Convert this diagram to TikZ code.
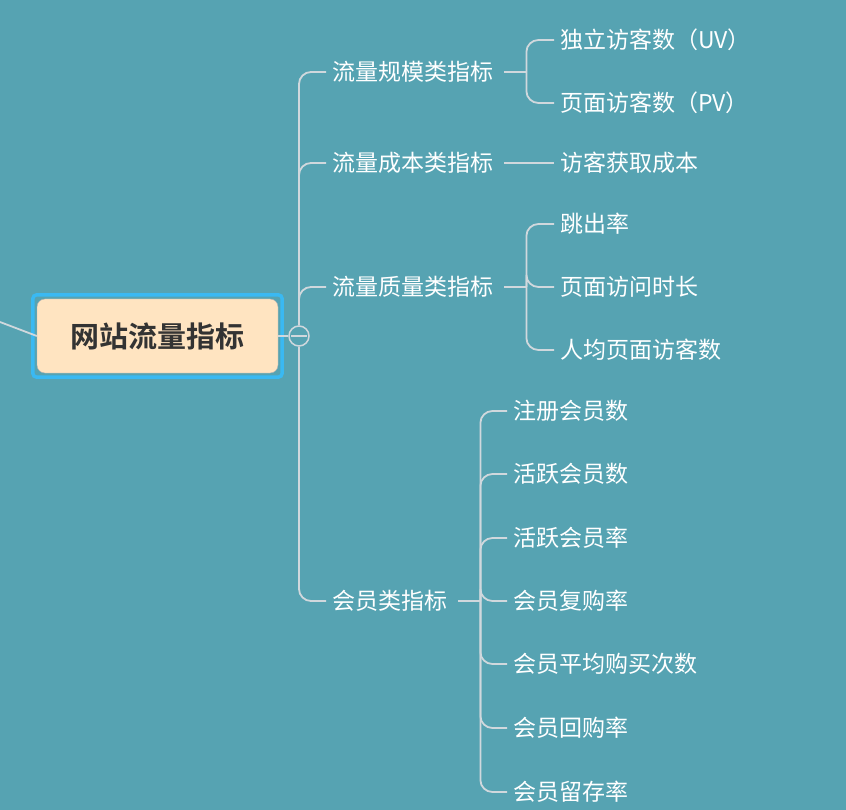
\documentclass[tikz,border=0pt]{standalone}
\usepackage{fontspec}
\setmainfont{Noto Sans CJK SC}[BoldFont={Noto Sans CJK SC Bold}]
\usetikzlibrary{positioning}
\definecolor{bgteal}{RGB}{86,163,178}
\definecolor{linegray}{RGB}{208,216,221}
\definecolor{rootfill}{RGB}{255,228,193}
\definecolor{selblue}{RGB}{58,185,242}
\definecolor{roottext}{RGB}{51,51,51}
\begin{document}
\begin{tikzpicture}[x=1pt, y=-1pt,
  every node/.style={font=\fontsize{23}{27}\selectfont, text=white, inner sep=6pt, anchor=west},
  branch/.style={draw=linegray, line width=1.8pt, rounded corners=12pt},
  stub/.style={draw=linegray, line width=1.8pt, shorten <=5pt},
  rootbox/.style={draw=gray!60, thin, fill=rootfill, rounded corners=8pt, minimum width=241pt, minimum height=74pt, anchor=center, text=roottext, font=\fontsize{29}{33}\selectfont\bfseries}]
\useasboundingbox (0,0) rectangle (846,810);
\fill[bgteal] (0,0) rectangle (846,810);
% root and collapse button
\coordinate (up) at (0,322);
\node[rootbox] (root) at (157.5,336) {网站流量指标};
\draw[selblue, line width=3.5pt, rounded corners=4pt] ([shift={(-4,-4)}]root.north west) rectangle ([shift={(4,4)}]root.south east);
\draw[branch] (up) -- (root.west);
\node[circle, draw=linegray, line width=1.5pt, fill=bgteal, minimum size=20pt, inner sep=0pt, anchor=center] (fold) at (299,336) {};
\draw[linegray, line width=1.5pt] ([xshift=3pt]fold.west) -- ([xshift=-3pt]fold.east);
\draw[branch] (root.east) -- (fold.west);
% first level
\node (scale) at (326,72) {流量规模类指标};
\node (cost) at (326,163) {流量成本类指标};
\node (quality) at (326,287) {流量质量类指标};
\node (member) at (326,601) {会员类指标};
\foreach \n in {scale,cost,quality} \draw[branch] (fold.north) |- (\n.west);
\draw[branch] (fold.south) |- (member.west);
% second level
\node (uv) at (554,40) {独立访客数（UV）};
\node (pv) at (554,103) {页面访客数（PV）};
\node (acq) at (554,163) {访客获取成本};
\node (bounce) at (554,224) {跳出率};
\node (stay) at (554,287) {页面访问时长};
\node (avgpv) at (554,350) {人均页面访客数};
\coordinate (scalej) at ([xshift=27pt]scale.east);
\coordinate (qualj) at ([xshift=27pt]quality.east);
\draw[stub] (scale.east) -- (scalej);
\foreach \n in {uv,pv} \draw[branch] (scalej) |- (\n.west);
\draw[stub] (cost.east) -- (acq.west);
\draw[stub] (quality.east) -- (qualj);
\foreach \n in {bounce,stay,avgpv} \draw[branch] (qualj) |- (\n.west);
\node (reg) at (507,411) {注册会员数};
\node (act) at (507,474) {活跃会员数};
\node (actr) at (507,538) {活跃会员率};
\node (rebuy) at (507,601) {会员复购率};
\node (avgbuy) at (507,664) {会员平均购买次数};
\node (back) at (507,728) {会员回购率};
\node (keep) at (507,792) {会员留存率};
\coordinate (memj) at ([xshift=27pt]member.east);
\draw[stub] (member.east) -- (memj);
\foreach \n in {reg,act,actr,rebuy,avgbuy,back,keep} \draw[branch] (memj) |- (\n.west);
\end{tikzpicture}
\end{document}
